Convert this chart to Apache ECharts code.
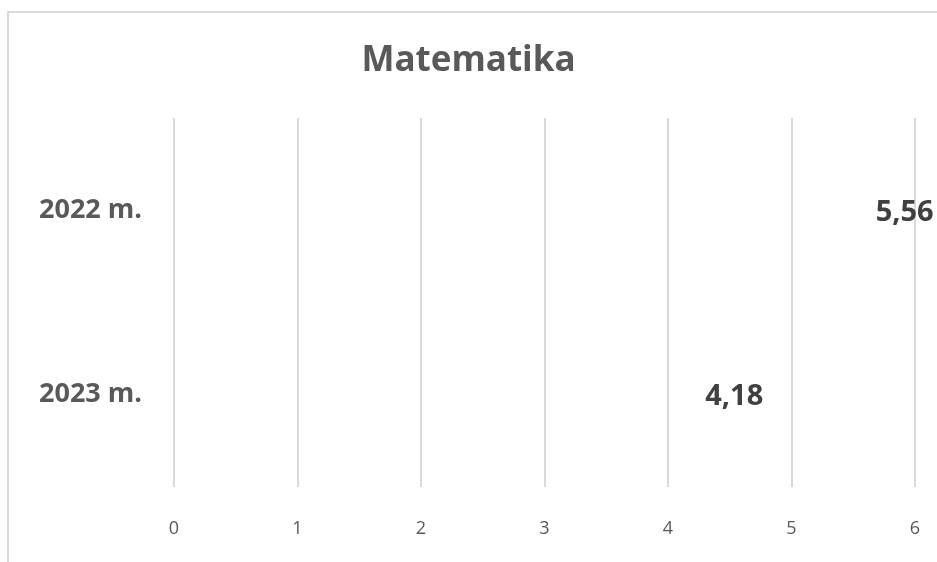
<!DOCTYPE html>
<html>
<head>
<meta charset="utf-8">
<script src="https://cdn.jsdelivr.net/npm/echarts@6/dist/echarts.min.js"></script>
<style>html,body{margin:0;padding:0;background:#fff}#c{width:937px;height:562px}</style>
</head>
<body>
<div id="c"></div>
<script>
const categories = ['2022 m.', '2023 m.'];
const values = [5.56, 4.18];
const valueLabels = ['5,56', '4,18'];
const xTicks = [0, 1, 2, 3, 4, 5, 6];

const chart = echarts.init(document.getElementById('c'));
chart.setOption({
  backgroundColor: '#fff',
  animation: false,
  title: {
    text: 'Matematika',
    left: 'center',
    top: 39,
    textStyle: { fontFamily: 'Open Sans', fontSize: 35, fontWeight: 'bold', color: '#595959' }
  },
  graphic: [{
    type: 'rect',
    shape: { x: 8, y: 12, width: 1200, height: 1200 },
    style: { fill: 'none', stroke: '#d9d9d9', lineWidth: 2 },
    silent: true
  }],
  grid: { left: 174, right: 22, top: 118, bottom: 75 },
  xAxis: {
    type: 'value',
    min: xTicks[0],
    max: xTicks[xTicks.length - 1],
    interval: 1,
    axisLine: { show: false },
    axisTick: { show: false },
    splitLine: { show: true, lineStyle: { color: '#d9d9d9', width: 2 } },
    axisLabel: { margin: 33, fontFamily: 'Open Sans', fontSize: 18, color: '#595959' }
  },
  yAxis: {
    type: 'category',
    inverse: true,
    data: categories,
    axisLine: { show: false },
    axisTick: { show: false },
    axisLabel: { margin: 32, fontFamily: 'Open Sans', fontSize: 27, fontWeight: 'bold', color: '#595959' }
  },
  series: [{
    type: 'bar',
    data: values,
    barWidth: '60%',
    itemStyle: { color: 'rgba(0,0,0,0)' },
    label: {
      show: true,
      position: 'right',
      distance: 15,
      offset: [0, 2],
      formatter: p => valueLabels[p.dataIndex],
      fontFamily: 'Open Sans',
      fontSize: 29,
      fontWeight: 'bold',
      color: '#404040'
    }
  }]
});
</script>
</body>
</html>
